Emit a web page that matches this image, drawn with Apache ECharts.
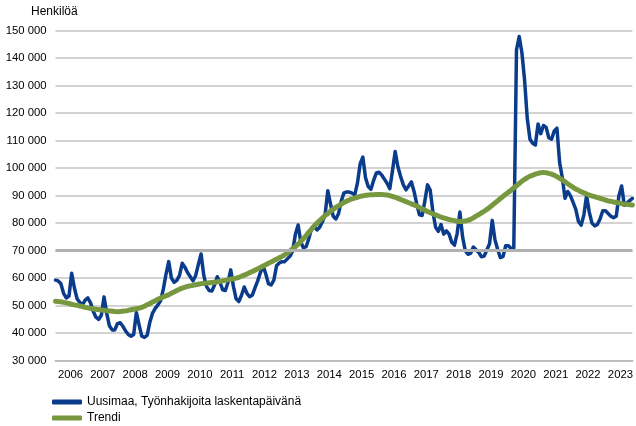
<!DOCTYPE html>
<html>
<head>
<meta charset="utf-8">
<script src="https://cdn.jsdelivr.net/npm/echarts@6/dist/echarts.min.js"></script>
<style>
  html, body { margin: 0; padding: 0; background: #fff; }
  #chart { width: 636px; height: 426px; }
</style>
</head>
<body>
<div id="chart"></div>
<script>
// monthly, Jan 2006 .. Nov 2023
var years = [2006, 2007, 2008, 2009, 2010, 2011, 2012, 2013, 2014, 2015,
             2016, 2017, 2018, 2019, 2020, 2021, 2022, 2023];
var months = ['01', '02', '03', '04', '05', '06', '07', '08', '09', '10', '11', '12'];

var uusimaa = [
  59300, 59000, 58000, 54500, 52800, 53500, 61800, 56500, 52500, 51200, 50300, 52000,
  52800, 51000, 48000, 45800, 45000, 46500, 53200, 47200, 42700, 41200, 41200, 43500,
  43800, 42500, 40800, 39500, 38900, 39500, 47500, 43000, 38900, 38500, 39200, 44000,
  47300, 49000, 50300, 51800, 56000, 61500, 66000, 60000, 58500, 59200, 61000, 65400,
  64000, 62000, 60500, 59000, 61000, 65000, 68800, 61000, 57000, 55500, 55300, 57500,
  60500, 58500, 55800, 55500, 58500, 63000, 57000, 52500, 51500, 53800, 56800, 54500,
  53300, 53800, 56500, 59000, 62000, 64500, 61500, 58000, 57500, 59300, 64500, 65500,
  66000, 66000, 67000, 68000, 70000, 76000, 79300, 73000, 71000, 71500, 74500, 78200,
  78700, 77500, 78500, 80500, 83000, 91800, 87000, 82500, 81500, 83500, 88000, 91000,
  91300, 91300, 90900, 90300, 94500, 101500, 104000, 96500, 93300, 92300, 95500, 98200,
  98500, 97500, 96000, 94500, 92500, 99000, 106000, 100500, 97000, 94000, 92100, 93500,
  95000, 91500, 87000, 83000, 82800, 88000, 93900, 92000, 84000, 78500, 77000, 79500,
  76000, 77200, 76000, 73000, 72000, 76300, 84000, 75000, 70000, 68700, 69000, 71300,
  70300, 69300, 67800, 68000, 70200, 72500, 81000, 74000, 70500, 67500, 67800, 71800,
  71800, 70800, 71000, 143000, 147800, 142000, 132000, 118000, 110500, 109000, 108400, 116000,
  112500, 115500, 114800, 111000, 110500, 113500, 114500, 102000, 96500, 89000, 91500, 90000,
  87500, 85000, 80500, 79300, 83000, 90000, 84000, 80000, 79000, 79500, 81500, 84500,
  84500, 83500, 82500, 82000, 82500, 90000, 93500, 86500, 87300, 88200, 89000
];

var trendi = [
  51600, 51500, 51400, 51200, 51000, 50800, 50500, 50300, 50100, 49900, 49700, 49400,
  49200, 49000, 48900, 48700, 48600, 48400, 48300, 48200, 48100, 48000, 47900, 47800,
  47900, 48000, 48100, 48300, 48500, 48700, 48900, 49100, 49400, 49800, 50300, 50800,
  51300, 51800, 52300, 52800, 53200, 53600, 54000, 54500, 55000, 55500, 56000, 56400,
  56700, 57000, 57200, 57400, 57600, 57800, 58000, 58100, 58200, 58300, 58400, 58500,
  58700, 58800, 59000, 59200, 59400, 59600, 59800, 60000, 60300, 60700, 61100, 61500,
  62000, 62400, 62900, 63400, 63900, 64400, 64900, 65400, 65900, 66400, 66900, 67400,
  67900, 68500, 69200, 69900, 70700, 71500, 72400, 73400, 74400, 75500, 76700, 77800,
  79000, 80000, 80900, 81800, 82700, 83500, 84300, 85000, 85700, 86300, 86900, 87500,
  88000, 88400, 88800, 89100, 89400, 89700, 89900, 90100, 90200, 90300, 90300, 90400,
  90400, 90400, 90300, 90200, 90000, 89700, 89400, 89000, 88600, 88200, 87800, 87400,
  87000, 86600, 86200, 85700, 85200, 84700, 84200, 83800, 83400, 83000, 82600, 82200,
  81900, 81600, 81300, 81100, 80900, 80700, 80600, 80600, 80800, 81000, 81400, 81900,
  82500, 83100, 83700, 84300, 85000, 85700, 86500, 87300, 88100, 88900, 89700, 90500,
  91200, 92000, 92800, 93600, 94400, 95200, 95900, 96500, 97000, 97400, 97800, 98100,
  98300, 98400, 98300, 98100, 97800, 97400, 96900, 96300, 95700, 95000, 94300, 93600,
  93000, 92400, 91900, 91400, 91000, 90600, 90200, 89900, 89600, 89300, 89000, 88700,
  88400, 88100, 87900, 87700, 87500, 87300, 87100, 86900, 86800, 86700, 86600
];

var seriesNames = ['Uusimaa, Työnhakijoita laskentapäivänä', 'Trendi'];
var yTicks = [30000, 150000, 10000]; // min, max, step
var highlightLine = 70000;

var categories = [];
years.forEach(function (y) {
  months.forEach(function (m) { categories.push(y + '-' + m); });
});
categories = categories.slice(0, uusimaa.length);

function spaced(v) {
  return String(v).replace(/\B(?=(\d{3})+(?!\d))/g, ' ');
}

var font = 'Liberation Sans, Arial, sans-serif';
var chart = echarts.init(document.getElementById('chart'), null, { renderer: 'canvas' });

var legendBase = {
  orient: 'horizontal',
  left: 52,
  padding: 0,
  itemWidth: 30,
  itemHeight: 5,
  icon: 'roundRect',
  textStyle: { fontFamily: font, fontSize: 12, color: '#000' }
};

var option = {
  animation: false,
  backgroundColor: '#fff',
  title: {
    text: 'Henkilöä',
    left: 31,
    top: 6,
    padding: 0,
    textStyle: { fontFamily: font, fontSize: 12, fontWeight: 'normal', color: '#000' }
  },
  grid: { left: 55.5, right: 1, top: 30.5, bottom: 65.3 },
  legend: [
    Object.assign({}, legendBase, { top: 396, data: [seriesNames[0]] }),
    Object.assign({}, legendBase, { top: 412, data: [seriesNames[1]] })
  ],
  xAxis: {
    type: 'category',
    data: categories,
    boundaryGap: false,
    axisLine: { show: true, lineStyle: { color: '#bdbdbd', width: 2 } },
    axisTick: { show: false },
    splitLine: { show: false },
    axisLabel: {
      interval: function (i, v) { return v.slice(5) === '06'; },
      formatter: function (v) { return v.slice(0, 4); },
      margin: 9,
      padding: [0, 0, 0, 3],
      fontFamily: font,
      fontSize: 11.3,
      color: '#000'
    }
  },
  yAxis: {
    type: 'value',
    min: yTicks[0],
    max: yTicks[1],
    interval: yTicks[2],
    axisLine: { show: false },
    axisTick: { show: false },
    splitLine: { lineStyle: { color: '#c4c4c4', width: 1.5 } },
    axisLabel: {
      margin: 9,
      formatter: spaced,
      fontFamily: font,
      fontSize: 11.3,
      color: '#000'
    }
  },
  series: [
    {
      name: 'grid70',
      type: 'line',
      data: [],
      z: 1,
      silent: true,
      markLine: {
        silent: true,
        symbol: 'none',
        label: { show: false },
        lineStyle: { color: '#b0b0b0', width: 3, type: 'solid' },
        data: [{ yAxis: highlightLine }]
      }
    },
    {
      name: seriesNames[0],
      type: 'line',
      data: uusimaa,
      showSymbol: false,
      symbol: 'none',
      z: 3,
      color: '#0b3c8c',
      lineStyle: { color: '#0b3c8c', width: 3.5, join: 'round', cap: 'round' }
    },
    {
      name: seriesNames[1],
      type: 'line',
      data: trendi,
      showSymbol: false,
      symbol: 'none',
      smooth: true,
      z: 4,
      color: '#77983f',
      lineStyle: { color: '#77983f', width: 5, join: 'round', cap: 'round' }
    }
  ]
};

chart.setOption(option);
</script>
</body>
</html>
